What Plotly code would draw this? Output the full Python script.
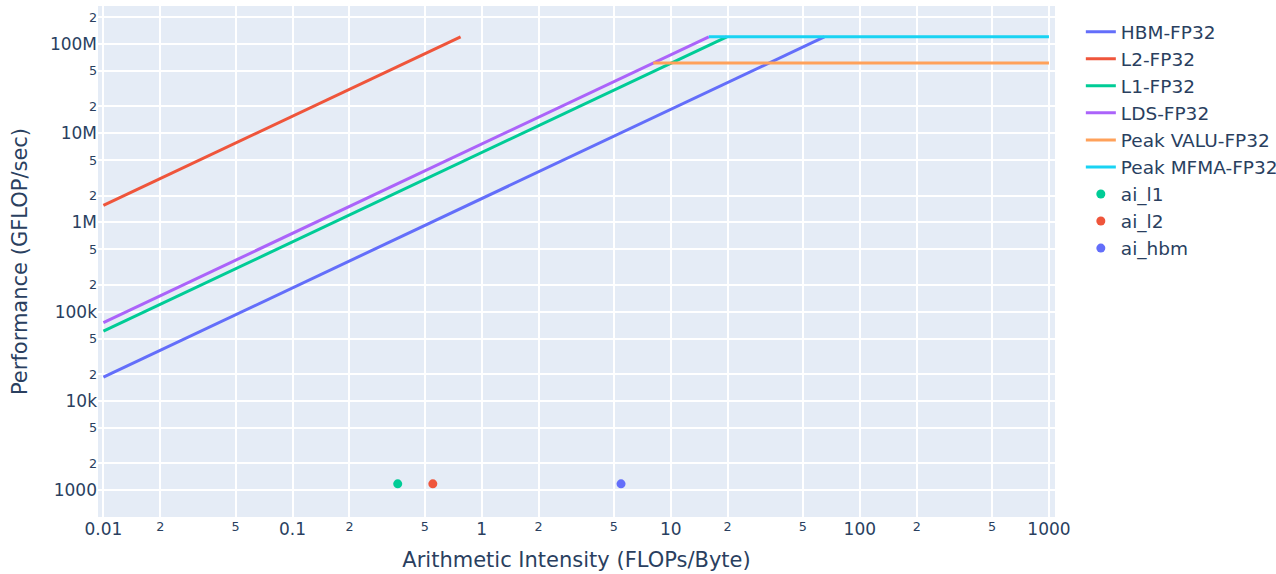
import plotly.graph_objects as go

# Roofline segments (endpoints)
hbm_x = [0.01, 64.9]
hbm_y = [1.85e4, 1.2e8]
l2_x = [0.01, 0.774]
l2_y = [1.55e6, 1.2e8]
l1_x = [0.01, 19.8]
l1_y = [6.06e4, 1.2e8]
lds_x = [0.01, 15.9]
lds_y = [7.55e4, 1.2e8]
valu_x = [8.08, 1000]
valu_y = [6.1e7, 6.1e7]
mfma_x = [15.9, 1000]
mfma_y = [1.2e8, 1.2e8]

# Application points
ai_names = ["ai_l1", "ai_l2", "ai_hbm"]
ai_x = [0.36, 0.552, 5.46]
ai_y = [1180, 1180, 1180]

colors = {
    "HBM-FP32": "#636EFA",
    "L2-FP32": "#EF553B",
    "L1-FP32": "#00CC96",
    "LDS-FP32": "#AB63FA",
    "Peak VALU-FP32": "#FFA15A",
    "Peak MFMA-FP32": "#19D3F3",
}
point_colors = ["#00CC96", "#EF553B", "#636EFA"]

fig = go.Figure()
for name, xs, ys in [
    ("HBM-FP32", hbm_x, hbm_y),
    ("L2-FP32", l2_x, l2_y),
    ("L1-FP32", l1_x, l1_y),
    ("LDS-FP32", lds_x, lds_y),
    ("Peak VALU-FP32", valu_x, valu_y),
    ("Peak MFMA-FP32", mfma_x, mfma_y),
]:
    fig.add_trace(go.Scatter(x=xs, y=ys, mode="lines", name=name,
                             line=dict(color=colors[name], width=3)))

for n, x, y, c in zip(ai_names, ai_x, ai_y, point_colors):
    fig.add_trace(go.Scatter(x=[x], y=[y], mode="markers", name=n,
                             marker=dict(color=c, size=9)))

fig.update_layout(
    template="plotly",
    font=dict(family="DejaVu Sans", size=17),
    margin=dict(l=98, r=221, t=6, b=57, autoexpand=False),
    xaxis=dict(type="log", range=[-2.0286, 3.032], automargin=False,
               title=dict(text="Arithmetic Intensity (FLOPs/Byte)",
                          font=dict(size=21), standoff=14),
               dtick="D2", gridwidth=1.5),
    yaxis=dict(type="log", range=[2.70, 8.425], automargin=False,
               title=dict(text="Performance (GFLOP/sec)",
                          font=dict(size=21), standoff=16),
               dtick="D2", gridwidth=1.5),
    legend=dict(font=dict(size=18.5), x=1.027, y=0.986, yanchor="top"),
    width=1276,
    height=574,
)

fig.write_html("out.html",
               config={"displayModeBar": False},
               post_script="document.body.style.margin='0';document.body.style.overflow='hidden';")
